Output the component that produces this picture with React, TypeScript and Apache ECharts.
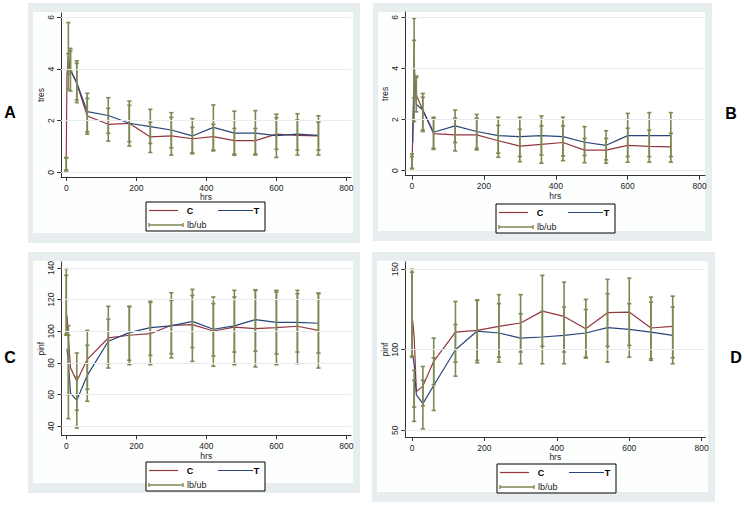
import React, { useEffect, useRef } from 'react';
import * as echarts from 'echarts';

// ---------------- data ----------------
const times = [0, 2, 6, 12, 30, 60, 120, 180, 240, 300, 360, 420, 480, 540, 600, 660, 720];
const xTicks = [0, 200, 400, 600, 800];
const tresTicks = [0, 2, 4, 6];
const pinfTicksC = [40, 60, 80, 100, 120, 140];
const pinfTicksD = [50, 100, 150];
const legendLabels = ['C', 'T', 'lb/ub'];
const panelLetters = ['A', 'B', 'C', 'D'];

// Panel A (tres)
const aC = [0.6, 3.75, 4.5, 3.97, 3.45, 2.18, 1.86, 1.9, 1.37, 1.41, 1.3, 1.38, 1.23, 1.23, 1.48, 1.43, 1.41];
const aT = [null, null, 4.3, 3.96, 3.47, 2.35, 2.2, 1.9, 1.77, 1.64, 1.41, 1.74, 1.52, 1.52, 1.42, 1.48, 1.43];
const aCLo = [0.05, null, 3.2, 3.15, 2.7, 1.48, 1.21, 1.02, 0.77, 0.67, 0.76, 0.86, 0.71, 0.71, 0.89, 0.86, 0.86];
const aCHi = [0.58, null, 5.8, 4.8, 4.22, 2.86, 2.48, 2.76, 1.94, 2.13, 1.74, 1.86, 1.7, 1.7, 2.12, 2.03, 1.94];
const aTLo = [0.1, null, 3.8, 3.9, 2.8, 1.57, 1.51, 1.19, 1.12, 0.95, 0.72, 0.83, 0.66, 0.67, 0.58, 0.67, 0.67];
const aTHi = [0.55, null, 4.6, 4.71, 4.32, 3.06, 2.89, 2.6, 2.44, 2.31, 2.08, 2.61, 2.37, 2.39, 2.25, 2.27, 2.19];

// Panel B (tres)
const bC = [0.15, 1.3, 3.5, 2.96, 2.37, 1.45, 1.4, 1.4, 1.17, 0.96, 1.03, 1.1, 0.8, 0.8, 0.99, 0.95, 0.93];
const bT = [null, 1.1, 4.26, 2.6, 2.37, 1.5, 1.75, 1.53, 1.37, 1.33, 1.37, 1.33, 1.11, 0.99, 1.37, 1.37, 1.37];
const bCLo = [0.07, null, 1.92, 2.3, 1.53, 0.87, 0.77, 0.81, 0.52, 0.35, 0.29, 0.39, 0.31, 0.29, 0.33, 0.33, 0.33];
const bCHi = [0.65, null, 5.96, 3.7, 2.87, 2.05, 2.05, 2.05, 1.77, 1.62, 1.75, 1.75, 1.26, 1.26, 1.66, 1.59, 1.46];
const bTLo = [0.09, null, 2.85, 2.85, 1.59, 0.83, 1.1, 0.87, 0.68, 0.55, 0.61, 0.57, 0.59, 0.42, 0.55, 0.55, 0.55];
const bTHi = [0.55, null, 5.1, 3.65, 3.02, 2.09, 2.37, 2.2, 2.09, 2.09, 2.14, 2.09, 1.72, 1.56, 2.24, 2.27, 2.27];

// Panel C (pinf)
const cC = [97, 110, 96, 77, 68.5, 82.3, 95.8, 97.5, 98.5, 103.8, 104.2, 100.2, 102.7, 101.7, 102.3, 103.2, 100.6];
const cT = [null, 89, 80, 61, 56.4, 72.2, 93.7, 99.2, 102.3, 103.4, 106.3, 101.3, 103.4, 107.4, 105.7, 105.7, 105.1];
const cCLo = [97.5, null, 60, null, 50.1, 63.4, 76.8, 78.9, 78.9, 83.2, 81, 77.9, 78.9, 77.5, 78.9, 79.6, 76.8];
const cCHi = [139.6, null, 103.6, null, 86.3, 100.6, 115.8, 115.8, 118.3, 124.4, 126.5, 121.7, 125.9, 125.9, 125.9, 125.9, 124.2];
const cTLo = [98.3, null, 44.8, null, 38.9, 55.8, 79.6, 81.7, 84.8, 85.9, 89.7, 84.4, 86.9, 87.4, 85.7, 86.9, 86.3];
const cTHi = [135.4, null, 97.5, null, 71.2, 91.2, 107.6, 115.6, 118.9, 119.6, 122.7, 117.5, 121.7, 126.3, 124.8, 123.8, 123.8];

// Panel D (pinf)
const dC = [100, 118, 108, 74, 77.4, 92.8, 111, 112, 114.5, 116.6, 124, 120.7, 113, 123, 123.4, 113.5, 114.5];
const dT = [null, 96.5, 91, 72, 66.5, 77.8, 100, 111.6, 110.4, 107.2, 107.9, 108.9, 110.4, 113.7, 112.6, 111, 108.9];
const dCLo = [95.4, null, 64.4, null, 65.2, 78.3, 92.3, 93.4, 95.4, 98.6, 102.1, 98.6, 94.8, 102.1, 102.7, 94.4, 95];
const dCHi = [150, null, 87.2, null, 89.6, 107.2, 130, 130.6, 134.2, 134.2, 146.2, 142, 131.3, 143.7, 144.5, 132.7, 133.3];
const dTLo = [96, null, 55.5, null, 50.9, 62.3, 83.6, 91.9, 92.3, 91.3, 91.3, 91.3, 95.4, 92.3, 95.4, 93.4, 91.3];
const dTHi = [148.2, null, 81, null, 81, 95, 115.7, 131, 128.6, 122.4, 123.8, 126.5, 125, 134.8, 128.6, 129.6, 126.5];

// ---------------- styling / layout ----------------
const FONT = '"Liberation Sans", Arial, Helvetica, sans-serif';
const RED = '#94363f';
const BLUE = '#27467a';
const OLIVE = '#7e8852';
const FRAME = '#e8eef0';
const GRIDLINE = '#e6edef';

const panels = [
  {
    grid: { left: 61, top: 13, width: 290, height: 164 }, xMin: -15, xMax: 813, yMin: -0.18, yMax: 6.17,
    yTicks: tresTicks, yName: 'tres', C: aC, T: aT, CLo: aCLo, CHi: aCHi, TLo: aTLo, THi: aTHi,
    frame: [28, 3, 360, 243], legend: [146, 202], letter: [10, 112],
  },
  {
    grid: { left: 405.5, top: 12, width: 299.5, height: 163.7 }, xMin: -18, xMax: 815, yMin: -0.2, yMax: 6.21,
    yTicks: tresTicks, yName: 'tres', C: bC, T: bT, CLo: bCLo, CHi: bCHi, TLo: bTLo, THi: bTHi,
    frame: [373, 3, 712, 241], legend: [496, 204], letter: [731, 113],
  },
  {
    grid: { left: 61.5, top: 262, width: 289.5, height: 173.3 }, xMin: -13.7, xMax: 813, yMin: 34.3, yMax: 143.8,
    yTicks: pinfTicksC, yName: 'pinf', C: cC, T: cT, CLo: cCLo, CHi: cCHi, TLo: cTLo, THi: cTHi,
    frame: [28, 252, 360, 493], legend: [146, 462], letter: [10, 357],
  },
  {
    grid: { left: 405.3, top: 262, width: 300, height: 175 }, xMin: -18.5, xMax: 810, yMin: 45.8, yMax: 154.5,
    yTicks: pinfTicksD, yName: 'pinf', C: dC, T: dT, CLo: dCLo, CHi: dCHi, TLo: dTLo, THi: dTHi,
    frame: [372, 252, 715, 502], legend: [497, 464], letter: [736, 357],
  },
];

function pairs(vals: (number | null)[]) {
  const out: number[][] = [];
  vals.forEach((v, i) => { if (v !== null && v !== undefined) out.push([times[i], v]); });
  return out;
}
function bars(lo: (number | null)[], hi: (number | null)[]) {
  const out: number[][] = [];
  lo.forEach((v, i) => {
    const h = hi[i];
    if (v !== null && h !== null && v !== undefined && h !== undefined) out.push([times[i], v, h]);
  });
  return out;
}

function renderBar(params: any, api: any) {
  const x = api.value(0);
  const p1 = api.coord([x, api.value(1)]);
  const p2 = api.coord([x, api.value(2)]);
  const w = 2.1;
  const style = { stroke: OLIVE, lineWidth: 1.6, fill: null };
  return {
    type: 'group',
    children: [
      { type: 'line', shape: { x1: p1[0], y1: p1[1], x2: p2[0], y2: p2[1] }, style },
      { type: 'line', shape: { x1: p1[0] - w, y1: p1[1], x2: p1[0] + w, y2: p1[1] }, style },
      { type: 'line', shape: { x1: p2[0] - w, y1: p2[1], x2: p2[0] + w, y2: p2[1] }, style },
    ],
  };
}

function buildOption() {
  const grid: any[] = [];
  const xAxis: any[] = [];
  const yAxis: any[] = [];
  const series: any[] = [];
  const graphic: any[] = [];

  panels.forEach((p, i) => {
    grid.push({ ...p.grid, show: true, backgroundColor: '#ffffff', borderWidth: 0, containLabel: false });
    xAxis.push({
      type: 'value', gridIndex: i, min: p.xMin, max: p.xMax,
      name: 'hrs', nameLocation: 'middle', nameGap: 8,
      nameTextStyle: { fontSize: 8.5, color: '#222', fontFamily: FONT },
      axisLine: { show: true, onZero: false, lineStyle: { color: '#333', width: 1 } },
      axisTick: { show: true, inside: false, length: 4, customValues: xTicks, lineStyle: { color: '#333' } },
      axisLabel: { show: true, customValues: xTicks, fontSize: 8.5, color: '#222', margin: 6, fontFamily: FONT },
      splitLine: { show: false },
    });
    yAxis.push({
      type: 'value', gridIndex: i, min: p.yMin, max: p.yMax,
      name: p.yName, nameLocation: 'middle', nameGap: 15, nameRotate: 90,
      nameTextStyle: { fontSize: 8.5, color: '#222', fontFamily: FONT },
      axisLine: { show: true, onZero: false, lineStyle: { color: '#333', width: 1 } },
      axisTick: { show: true, inside: false, length: 4, customValues: p.yTicks, lineStyle: { color: '#333' } },
      axisLabel: { show: true, customValues: p.yTicks, rotate: 90, fontSize: 8.5, color: '#222', margin: 6, fontFamily: FONT },
      splitLine: { show: false },
    });

    series.push({
      type: 'line', name: 'grid' + i, xAxisIndex: i, yAxisIndex: i, data: [], silent: true, z: 1,
      markLine: {
        silent: true, symbol: ['none', 'none'], label: { show: false }, animation: false,
        lineStyle: { color: GRIDLINE, width: 1, type: 'solid' },
        data: p.yTicks.map((v) => ({ yAxis: v })),
      },
    });
    series.push({
      type: 'line', name: 'C', xAxisIndex: i, yAxisIndex: i, data: pairs(p.C), showSymbol: false, z: 3,
      lineStyle: { color: RED, width: 1.2 }, itemStyle: { color: RED },
    });
    series.push({
      type: 'line', name: 'T', xAxisIndex: i, yAxisIndex: i, data: pairs(p.T), showSymbol: false, z: 3,
      lineStyle: { color: BLUE, width: 1.2 }, itemStyle: { color: BLUE },
    });
    series.push({
      type: 'custom', name: 'lb/ub C', xAxisIndex: i, yAxisIndex: i, data: bars(p.CLo, p.CHi), z: 4,
      renderItem: renderBar, encode: { x: 0, y: [1, 2] },
    });
    series.push({
      type: 'custom', name: 'lb/ub T', xAxisIndex: i, yAxisIndex: i, data: bars(p.TLo, p.THi), z: 4,
      renderItem: renderBar, encode: { x: 0, y: [1, 2] },
    });

    // panel frame
    const [fx1, fy1, fx2, fy2] = p.frame;
    graphic.push({ type: 'rect', z: -20, silent: true, shape: { x: fx1, y: fy1, width: fx2 - fx1, height: fy2 - fy1 }, style: { fill: FRAME } });
    graphic.push({ type: 'rect', z: -19, silent: true, shape: { x: fx1 + 5, y: fy1 + 9, width: fx2 - fx1 - 12, height: fy2 - fy1 - 19 }, style: { fill: '#fdfefe' } });

    // legend
    const [lx, ly] = p.legend;
    const ls = { stroke: OLIVE, lineWidth: 1.4 };
    graphic.push({
      type: 'group', x: lx, y: ly, z: 50, silent: true,
      children: [
        { type: 'rect', shape: { x: 0, y: 0, width: 119, height: 29 }, style: { fill: '#ffffff', stroke: '#000', lineWidth: 1 } },
        { type: 'line', shape: { x1: 3, y1: 8.5, x2: 32, y2: 8.5 }, style: { stroke: RED, lineWidth: 1.2 } },
        { type: 'text', x: 44, y: 8.5, style: { text: legendLabels[0], fontSize: 9, fontWeight: 'bold', fontFamily: FONT, fill: '#000', align: 'center', verticalAlign: 'middle' } },
        { type: 'line', shape: { x1: 72, y1: 8.5, x2: 107, y2: 8.5 }, style: { stroke: BLUE, lineWidth: 1.2 } },
        { type: 'text', x: 110.5, y: 8.5, style: { text: legendLabels[1], fontSize: 9, fontWeight: 'bold', fontFamily: FONT, fill: '#000', align: 'center', verticalAlign: 'middle' } },
        { type: 'line', shape: { x1: 3, y1: 23, x2: 37, y2: 23 }, style: ls },
        { type: 'line', shape: { x1: 3, y1: 21, x2: 3, y2: 25 }, style: ls },
        { type: 'line', shape: { x1: 37, y1: 21, x2: 37, y2: 25 }, style: ls },
        { type: 'text', x: 41, y: 23, style: { text: legendLabels[2], fontSize: 9, fontFamily: FONT, fill: '#222', align: 'left', verticalAlign: 'middle' } },
      ],
    });

    // panel letter
    graphic.push({
      type: 'text', x: p.letter[0], y: p.letter[1], z: 50, silent: true,
      style: { text: panelLetters[i], fontSize: 16, fontWeight: 'bold', fontFamily: FONT, fill: '#000', align: 'center', verticalAlign: 'middle' },
    });
  });

  return {
    animation: false,
    backgroundColor: '#ffffff',
    textStyle: { fontFamily: FONT },
    grid, xAxis, yAxis, series, graphic,
  };
}

export default function App() {
  const ref = useRef<HTMLDivElement>(null);
  useEffect(() => {
    if (!ref.current) return;
    const chart = echarts.init(ref.current, null, { renderer: 'svg' });
    chart.setOption(buildOption() as any);
    return () => chart.dispose();
  }, []);
  return (
    <div
      ref={ref}
      style={{ position: 'fixed', left: 0, top: 0, width: 745, height: 508, background: '#fff' }}
    />
  );
}
